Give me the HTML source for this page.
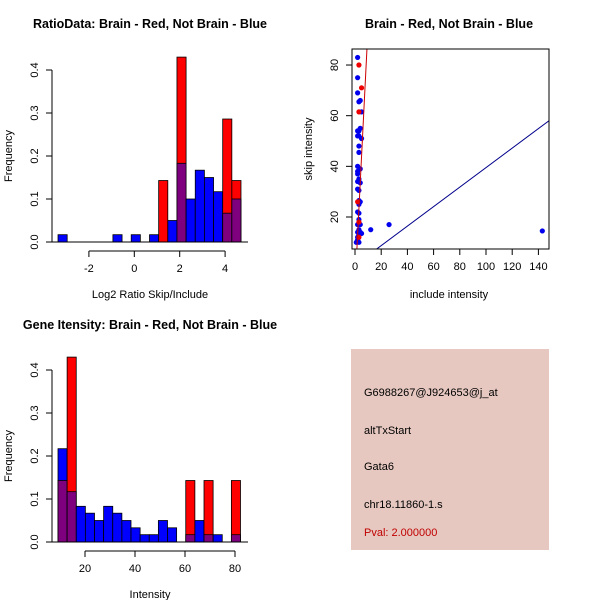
<!DOCTYPE html>
<html><head><meta charset="utf-8"><style>
body{margin:0;background:#fff;}
svg{display:block;font-family:"Liberation Sans",sans-serif;}
</style></head><body>
<svg id="c" width="600" height="600">
<rect width="600" height="600" fill="#fff"/>
</svg>
<script>
// ---- data: ratio histogram ----
const ratioBinStart = -3.36, ratioBinWidth = 0.403;
const ratioBlue = [0.017,0,0,0,0,0,0.017,0,0.017,0,0.017,0,0.05,0.183,0.1,0.167,0.15,0.117,0.067,0.1];
const ratioRed  = [0,0,0,0,0,0,0,0,0,0,0,0.143,0,0.43,0,0,0,0,0.286,0.143];
const ratioXTicks = [-2,0,2,4];
const freqTicks = [0,0.1,0.2,0.3,0.4];
// ---- data: intensity histogram ----
const intBinStart = 9.2, intBinWidth = 3.65;
const intBlue = [0.217,0.117,0.083,0.067,0.05,0.083,0.067,0.05,0.033,0.017,0.017,0.05,0.033,0,0.017,0.05,0.017,0.017,0,0.017];
const intRed  = [0.143,0.43,0,0,0,0,0,0,0,0,0,0,0,0,0.143,0,0.143,0,0,0.143];
const intXTicks = [20,40,60,80];
// ---- data: scatter ----
const blueInclude = [2,2,2,3,4,5,4,3,2,2,5,3,3,3,2,2,2,4,3,2,4,2,3,3,4,3,2,3,3,2,4,3,2,4,5,3,2,2,1,3,12,26,143];
const blueSkip    = [83,75,69,65.5,66,61.5,55,54,54,52,51,52,48,45.5,40,38,37,39,35,34,33.5,31,30.5,26.5,26,25,22,21.5,19,17,17,15,14,14,13.5,13,12,11,10,10,15,17,14.5];
const redInclude = [3,5,3,2,3,3];
const redSkip    = [80,71,61.5,26,18,12];
const scatterXTicks = [0,20,40,60,80,100,120,140];
const scatterYTicks = [20,40,60,80];
const redFit = [-7.6, 10.3];   // intercept, slope
const blueFit = [1.0, 0.385];

const svg = document.getElementById('c');
const NS = 'http://www.w3.org/2000/svg';
function mk(tag, attrs, parent){const e=document.createElementNS(NS,tag);for(const k in attrs)e.setAttribute(k,attrs[k]);(parent||svg).appendChild(e);return e;}
function txt(s, attrs, parent){const e=mk('text',attrs,parent);e.textContent=s;return e;}

function hist(g, x0px, unitX, valX0, y0, unitY, bStart, bW, blue, red, xticks, xAxisL, xAxisR, ytop, xlabel, title, titleX, titleY){
  const sx=v=>x0px+(v-valX0)*unitX, sy=v=>y0-v*unitY;
  for(let i=0;i<blue.length;i++){
    const a=bStart+i*bW, b=a+bW, x=sx(a), w=sx(b)-sx(a);
    const bl=blue[i], rd=red[i], mn=Math.min(bl,rd), mx=Math.max(bl,rd);
    if(mx<=0) continue;
    const top = bl>=rd?'#0000ff':'#ff0000';
    let r=mk('rect',{x:x,y:sy(mx),width:w,height:sy(0)-sy(mx),fill:top,stroke:'#000','stroke-width':0.8},g);
    
    
    if(mn>0){
      let p=mk('rect',{x:x,y:sy(mn),width:w,height:sy(0)-sy(mn),fill:'#7f007f',stroke:'#000','stroke-width':0.8},g);
      
      
    }
  }
  mk('line',{x1:52,x2:52,y1:sy(0),y2:sy(0.4),stroke:'#000'},g);
  freqTicks.forEach(t=>{mk('line',{x1:46,x2:52,y1:sy(t),y2:sy(t),stroke:'#000'},g);
    const l=txt(t.toFixed(1),{x:38,y:sy(t),'font-size':11,'text-anchor':'middle',transform:`rotate(-90 38 ${sy(t)})`},g);
    });
  mk('line',{x1:xAxisL,x2:xAxisR,y1:y0,y2:y0,stroke:'#000'},g);
  const ax=y0+9;
  mk('line',{x1:sx(xticks[0]),x2:sx(xticks[xticks.length-1]),y1:ax,y2:ax,stroke:'#000'},g);
  xticks.forEach(t=>{mk('line',{x1:sx(t),x2:sx(t),y1:ax,y2:ax+6,stroke:'#000'},g);
    const l=txt(String(t),{x:sx(t),y:ax+21,'font-size':11,'text-anchor':'middle'},g);
    });
  const xl=txt(xlabel,{x:150,y:y0+56,'font-size':11,'text-anchor':'middle'},g);
  
  const yl=txt('Frequency',{x:12,y:(y0+ytop)/2,'font-size':11,'text-anchor':'middle',transform:`rotate(-90 12 ${(y0+ytop)/2})`},g);
  
  const tt=txt(title,{x:titleX,y:titleY,'font-size':12.5,'font-weight':'bold','text-anchor':'middle'},g);
  
}

const g1=mk('g',{});
hist(g1,134.3,22.7,0,242,430,ratioBinStart,ratioBinWidth,ratioBlue,ratioRed,ratioXTicks,49,248,70,'Log2 Ratio Skip/Include','RatioData: Brain - Red, Not Brain - Blue',150,28);
const g2=mk('g',{});
hist(g2,85,2.5,20,542,430,intBinStart,intBinWidth,intBlue,intRed,intXTicks,49,248,370,'Intensity','Gene Itensity: Brain - Red, Not Brain - Blue',150,329);

const g3=mk('g',{});
const L=352,R=549,T=49,B=249;
const px=v=>355+v*1.31, py=v=>217-(v-20)*2.533;
const cp=mk('clipPath',{id:'clp'},g3);
mk('rect',{x:L,y:T,width:R-L,height:B-T},cp);
const pg=mk('g',{'clip-path':'url(#clp)'},g3);
function fitLine(f,col,name){const xa=-10,xb=160;const l=mk('line',{x1:px(xa),y1:py(f[0]+f[1]*xa),x2:px(xb),y2:py(f[0]+f[1]*xb),stroke:col,'stroke-width':1},pg);
  }
blueInclude.forEach((v,i)=>{const c=mk('circle',{cx:px(v),cy:py(blueSkip[i]),r:2.6,fill:'#0000ee'},pg);
  });
redInclude.forEach((v,i)=>{const c=mk('circle',{cx:px(v),cy:py(redSkip[i]),r:2.6,fill:'#ee0000'},pg);
  });
fitLine(redFit,'#cc0000','red-fit-line');
fitLine(blueFit,'#00008b','blue-fit-line');
mk('rect',{x:L,y:T,width:R-L,height:B-T,fill:'none',stroke:'#000'},g3);
scatterXTicks.forEach(t=>{mk('line',{x1:px(t),x2:px(t),y1:B,y2:B+6,stroke:'#000'},g3);
  const l=txt(String(t),{x:px(t),y:B+21,'font-size':11,'text-anchor':'middle'},g3);
  });
scatterYTicks.forEach(t=>{mk('line',{x1:L-6,x2:L,y1:py(t),y2:py(t),stroke:'#000'},g3);
  const l=txt(String(t),{x:338,y:py(t),'font-size':11,'text-anchor':'middle',transform:`rotate(-90 338 ${py(t)})`},g3);
  });
let t3=txt('include intensity',{x:449,y:298,'font-size':11,'text-anchor':'middle'},g3);

t3=txt('skip intensity',{x:312,y:149,'font-size':11,'text-anchor':'middle',transform:'rotate(-90 312 149)'},g3);

t3=txt('Brain - Red, Not Brain - Blue',{x:449,y:28,'font-size':12.5,'font-weight':'bold','text-anchor':'middle'},g3);

</script>
<svg style="position:absolute;left:0;top:0" width="600" height="600">
<g font-family="Liberation Sans, sans-serif" font-size="11">
<rect x="351" y="349" width="198" height="201" fill="#e6c8c0"/>
<text x="364" y="396">G6988267@J924653@j_at</text>
<text x="364" y="434">altTxStart</text>
<text x="364" y="470">Gata6</text>
<text x="364" y="508">chr18.11860-1.s</text>
<text x="364" y="536" fill="#c00000">Pval: 2.000000</text>
</g></svg>
</body></html>
